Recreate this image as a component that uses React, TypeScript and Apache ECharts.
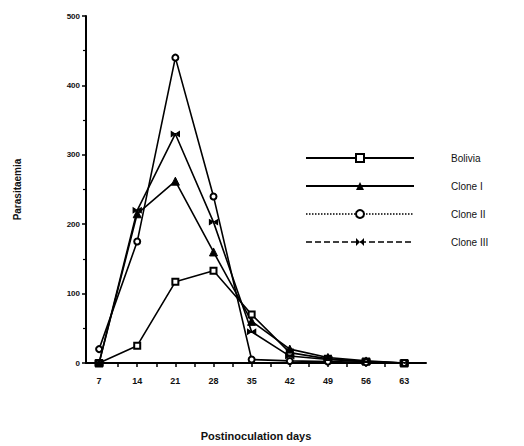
import React, { useEffect, useRef } from "react";
import * as echarts from "echarts";

const days = [7, 14, 21, 28, 35, 42, 49, 56, 63];
const bolivia = [0, 25, 117, 133, 70, 15, 6, 2, 0];
const cloneI = [0, 215, 262, 160, 60, 20, 8, 3, 0];
const cloneII = [20, 175, 440, 240, 5, 3, 2, 1, 0];
const cloneIII = [0, 220, 330, 203, 45, 10, 5, 2, 0];
const xTickValues = [7, 10.5, 14, 17.5, 21, 24.5, 28, 31.5, 35, 38.5, 42, 45.5, 49, 52.5, 56, 59.5, 63];
const xLabelValues = [7, 14, 21, 28, 35, 42, 49, 56, 63];
const yTicks = [0, 100, 200, 300, 400, 500];

const pair = (vals: number[]) => days.map((d, i) => [d, vals[i]]);

export default function App() {
  const ref = useRef<HTMLDivElement>(null);
  useEffect(() => {
    if (!ref.current) return;
    const chart = echarts.init(ref.current, null, { renderer: "svg" });
    const font = "Liberation Sans";
    const base = {
      type: "line",
      lineStyle: { color: "#000", width: 1.6 },
      itemStyle: { color: "#000", borderColor: "#000" },
      symbolSize: 6,
    };
    chart.setOption({
      animation: false,
      backgroundColor: "#fff",
      grid: { left: 86, right: 98, top: 16, bottom: 82 },
      legend: {
        orient: "vertical",
        left: 300,
        top: 148,
        itemWidth: 108,
        itemHeight: 10,
        itemGap: 18,
        textStyle: { fontFamily: font, fontSize: 10, fontWeight: "normal", color: "#111", padding: [0, 0, 0, 32] },
        data: [
          { name: "Bolivia" },
          { name: "Clone I" },
          { name: "Clone II", lineStyle: { type: "dotted", width: 1.5 } },
          { name: "Clone III", lineStyle: { type: "dashed", width: 1.5 } },
        ],
      },
      xAxis: {
        type: "value",
        min: 4.6,
        max: 67,
        name: "Postinoculation days",
        nameLocation: "middle",
        nameGap: 67,
        nameTextStyle: { fontFamily: font, fontSize: 11, fontWeight: "bold", color: "#111" },
        axisLine: { show: true, lineStyle: { color: "#000", width: 2 } },
        axisTick: { show: true, length: 4, lineStyle: { color: "#000", width: 1.5 }, customValues: xTickValues },
        axisLabel: { fontFamily: font, fontSize: 9, fontWeight: "bold", color: "#111", margin: 13, customValues: xLabelValues },
        splitLine: { show: false },
      },
      yAxis: {
        type: "value",
        min: 0,
        max: 500,
        interval: 100,
        name: "Parasitaemia",
        nameLocation: "middle",
        nameGap: 64,
        nameTextStyle: { fontFamily: font, fontSize: 10, fontWeight: "bold", color: "#111" },
        axisLine: { show: true, lineStyle: { color: "#000", width: 2 } },
        axisTick: { show: true, length: 4, lineStyle: { color: "#000", width: 1.5 } },
        minorTick: { show: true, splitNumber: 2, length: 3, lineStyle: { color: "#000", width: 1.2 } },
        axisLabel: { fontFamily: font, fontSize: 8, fontWeight: "bold", color: "#111", margin: 6, customValues: yTicks },
        splitLine: { show: false },
      },
      series: [
        { ...base, name: "Bolivia", symbol: "emptyRect", symbolSize: 6, itemStyle: { color: "#000", borderWidth: 2.2 }, data: pair(bolivia) },
        { ...base, name: "Clone I", symbol: "triangle", symbolSize: 8, data: pair(cloneI) },
        { ...base, name: "Clone II", symbol: "emptyCircle", symbolSize: 6, itemStyle: { color: "#000", borderWidth: 1.5 }, data: pair(cloneII) },
        { ...base, name: "Clone III", symbol: "path://M0,0L10,6L10,0L0,6Z", symbolSize: [8, 5], data: pair(cloneIII) },
      ],
    });
    return () => chart.dispose();
  }, []);
  return <div ref={ref} style={{ width: 524, height: 446, marginLeft: -8, marginTop: -8 }} />;
}
